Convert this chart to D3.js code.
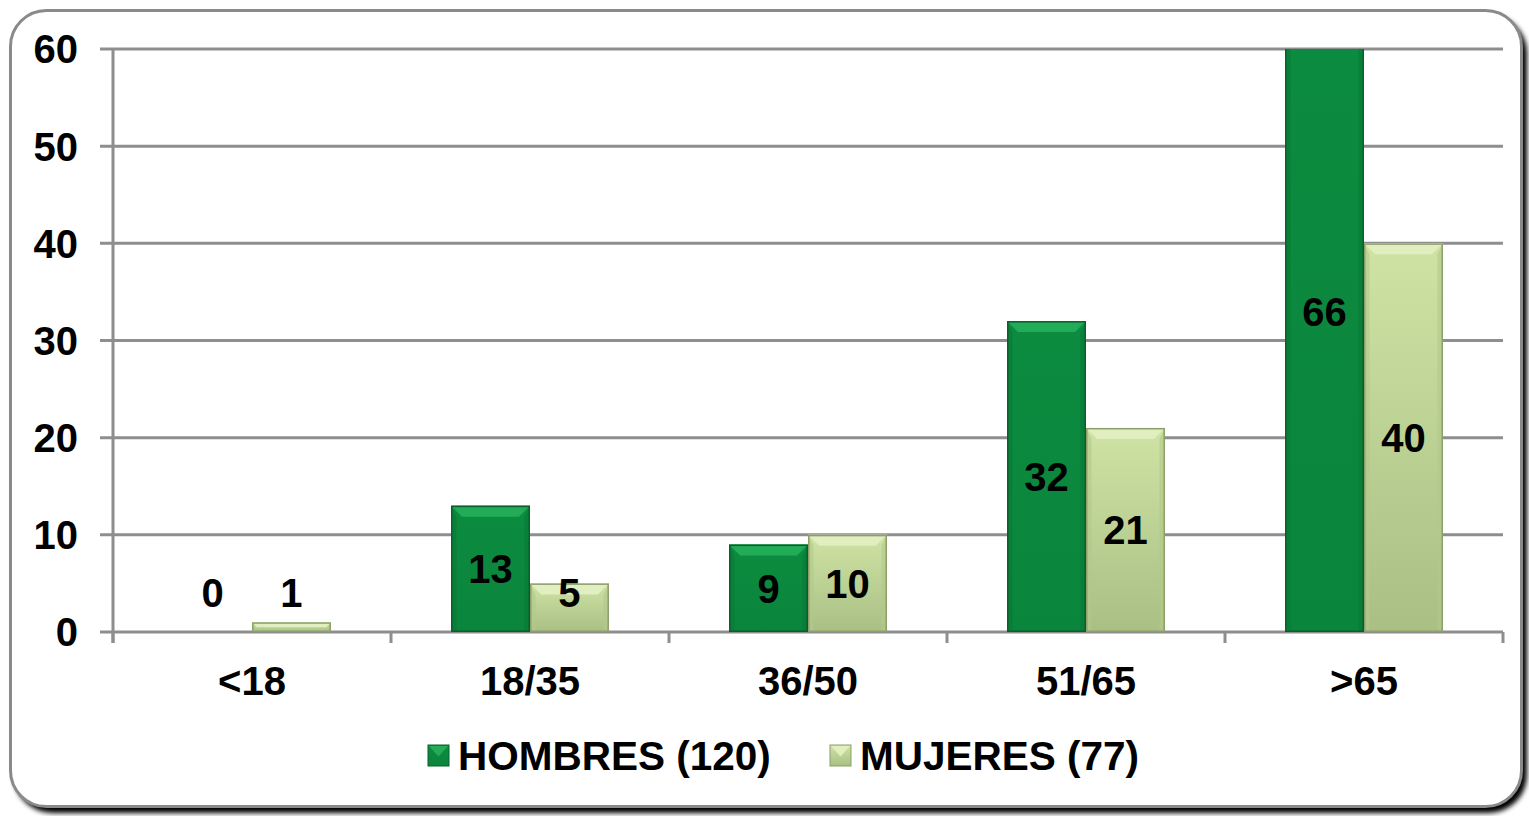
<!DOCTYPE html>
<html><head><meta charset="utf-8">
<script src="https://cdn.jsdelivr.net/npm/d3@7"></script>
<style>html,body{margin:0;padding:0;background:#fff;}svg{display:block;}</style>
</head><body>
<svg id="c" width="1529" height="816"></svg>
<script>
const categories = ["<18", "18/35", "36/50", "51/65", ">65"];
const seriesNames = ["HOMBRES (120)", "MUJERES (77)"];
const hombres = [0, 13, 9, 32, 66];
const mujeres = [1, 5, 10, 21, 40];
const yTicks = [0, 10, 20, 30, 40, 50, 60];

(function () {
const svg = d3.select("#c");
const defs = svg.append("defs");
const FONT = "'Liberation Sans', Arial, sans-serif";
const FS = 40;

const sh = defs.append("filter").attr("id","sh").attr("x","-5%").attr("y","-5%").attr("width","110%").attr("height","110%");
sh.append("feGaussianBlur").attr("stdDeviation",2.5);
svg.append("rect").attr("x",14).attr("y",15).attr("width",1513).attr("height",798).attr("rx",38)
  .attr("fill","#000").attr("filter","url(#sh)");
svg.append("rect").attr("x",10.5).attr("y",10.5).attr("width",1511).attr("height",796).attr("rx",36)
  .attr("fill","#fff").attr("stroke","#8a8a8a").attr("stroke-width",3);

const pLeft = 113, pRight = 1503, pTop = 49, pBottom = 632;
const x = d3.scaleBand().domain(categories).range([pLeft, pRight]).paddingInner(0.432).paddingOuter(0.216);
const xs = d3.scaleBand().domain(seriesNames).range([0, x.bandwidth()]);
const y = d3.scaleLinear().domain([0, 60]).range([pBottom, pTop]);

const gridColor = "#8e8e8e";
svg.append("g").selectAll("line").data(yTicks).join("line")
  .attr("x1", pLeft - 13).attr("x2", pRight).attr("y1", d => y(d)).attr("y2", d => y(d))
  .attr("stroke", gridColor).attr("stroke-width", 3);
svg.append("line").attr("x1", pLeft).attr("x2", pLeft).attr("y1", pTop).attr("y2", pBottom + 11)
  .attr("stroke", gridColor).attr("stroke-width", 3);
const bounds = categories.map(c => x(c) - x.step() * x.paddingInner() / 2).concat([pRight]);
svg.append("g").selectAll("line").data(bounds).join("line")
  .attr("x1", d => d).attr("x2", d => d).attr("y1", pBottom).attr("y2", pBottom + 11)
  .attr("stroke", gridColor).attr("stroke-width", 3);

svg.append("g").selectAll("text").data(yTicks).join("text")
  .attr("x", 78).attr("y", d => y(d)).attr("dy", "0.36em").attr("text-anchor", "end")
  .attr("font-family", FONT).attr("font-weight", "bold").attr("font-size", FS).attr("fill", "#000")
  .text(d => d);
svg.append("g").selectAll("text").data(categories).join("text")
  .attr("x", d => x(d) + x.bandwidth() / 2).attr("y", 695).attr("text-anchor", "middle")
  .attr("font-family", FONT).attr("font-weight", "bold").attr("font-size", FS).attr("fill", "#000")
  .text(d => d);

function vgrad(id, stops) {
  const g = defs.append("linearGradient").attr("id", id).attr("x1",0).attr("y1",0).attr("x2",0).attr("y2",1);
  stops.forEach(s => g.append("stop").attr("offset", s[0]).attr("stop-color", s[1]));
}
vgrad("gH", [[0,"#0c8c40"],[1,"#0a853c"]]);
vgrad("gM", [[0,"#cfe3a4"],[1,"#a9bf84"]]);
const styles = [
  {fill:"url(#gH)", top:"#22ac58", side:"#087a36", stroke:"#0b5e2c"},
  {fill:"url(#gM)", top:"#e0eec0", side:"#b2c88c", stroke:"#8da06a"}
];

const clip = defs.append("clipPath").attr("id","plot");
clip.append("rect").attr("x", pLeft).attr("y", pTop).attr("width", pRight - pLeft).attr("height", pBottom - pTop);

const rows = [];
categories.forEach((c, i) => {
  [hombres[i], mujeres[i]].forEach((v, s) => rows.push({c, s, v}));
});

const bars = svg.append("g").attr("clip-path", "url(#plot)");
rows.filter(d => d.v > 0).forEach(d => {
  const x0 = x(d.c) + xs(seriesNames[d.s]);
  const w = xs.bandwidth();
  const yTop = y(d.v), h = pBottom - yTop;
  const st = styles[d.s];
  const b = Math.min(11, h / 2, w / 2);
  const g = bars.append("g");
  g.append("rect").attr("x", x0).attr("y", yTop).attr("width", w).attr("height", h).attr("fill", st.fill);
  g.append("path").attr("d", `M${x0},${yTop}L${x0+w},${yTop}L${x0+w-b},${yTop+b}L${x0+b},${yTop+b}Z`).attr("fill", st.top);
  g.append("path").attr("d", `M${x0},${yTop}L${x0+b*0.5},${yTop+b}L${x0+b*0.5},${pBottom}L${x0},${pBottom}Z`).attr("fill", st.side).attr("opacity",0.6);
  g.append("path").attr("d", `M${x0+w},${yTop}L${x0+w-b*0.5},${yTop+b}L${x0+w-b*0.5},${pBottom}L${x0+w},${pBottom}Z`).attr("fill", st.side).attr("opacity",0.6);
  g.append("rect").attr("x", x0 + 0.75).attr("y", yTop + 0.75).attr("width", w - 1.5).attr("height", h - 1.5)
    .attr("fill", "none").attr("stroke", st.stroke).attr("stroke-width", 1.5);
});

svg.append("g").selectAll("text").data(rows).join("text")
  .attr("x", d => x(d.c) + xs(seriesNames[d.s]) + xs.bandwidth() / 2)
  .attr("y", d => y(Math.max(d.v / 2, 4.1))).attr("dy", "0.36em").attr("text-anchor", "middle")
  .attr("font-family", FONT).attr("font-weight", "bold").attr("font-size", FS).attr("fill", "#000")
  .text(d => d.v);

const legendX = [428, 830];
const lg = svg.append("g");
seriesNames.forEach((n, i) => {
  const st = styles[i];
  const lx = legendX[i], ly = 745, sz = 21;
  lg.append("rect").attr("x", lx).attr("y", ly).attr("width", sz).attr("height", sz).attr("fill", i ? "url(#gM)" : "url(#gH)").attr("stroke", st.stroke).attr("stroke-width", 1);
  lg.append("path").attr("d", `M${lx+1},${ly+1}L${lx+sz-1},${ly+1}L${lx+sz/2},${ly+sz*0.55}Z`).attr("fill", st.top);
  lg.append("text").attr("x", lx + 30).attr("y", ly + sz / 2).attr("dy", "0.36em")
    .attr("font-family", FONT).attr("font-weight", "bold").attr("font-size", 40.5).attr("fill", "#000")
    .text(n);
});
})();
</script>
</body></html>
